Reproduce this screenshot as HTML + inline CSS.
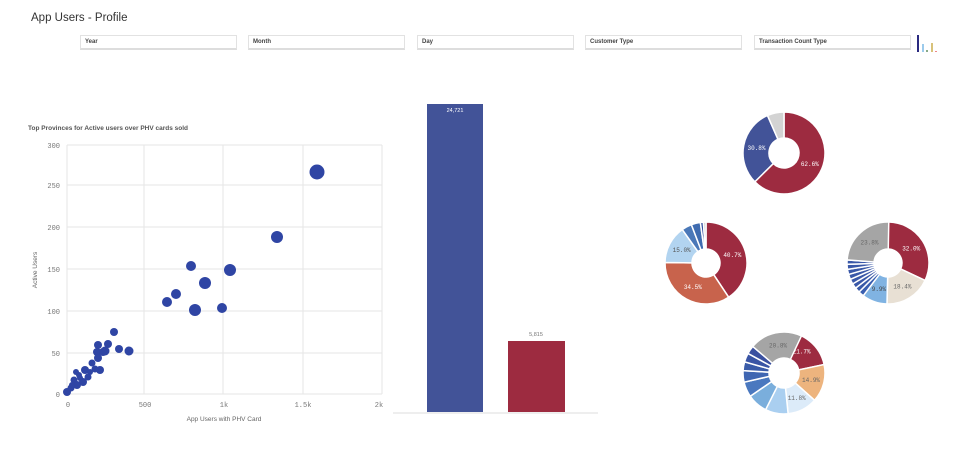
<!DOCTYPE html>
<html><head><meta charset="utf-8"><style>
body{margin:0;width:974px;height:456px;background:#fff;overflow:hidden;font-family:"Liberation Sans",sans-serif;position:relative}
.t{position:absolute;left:31px;top:12px;font-size:11.5px;color:#333}
.f{position:absolute;top:35px;height:15px;width:157px;border:1px solid #e2e2e2;border-bottom:2px solid #ddd;font-size:6px;font-weight:bold;color:#444;box-sizing:border-box;padding:3px 4px}
</style></head><body>
<div class="t">App Users - Profile</div>
<div class="f" style="left:80px">Year</div>
<div class="f" style="left:248px">Month</div>
<div class="f" style="left:417px">Day</div>
<div class="f" style="left:585px">Customer Type</div>
<div class="f" style="left:754px">Transaction Count Type</div>
<svg width="974" height="456" style="position:absolute;left:0;top:0" id="s">
<rect x="917" y="35" width="2" height="17" fill="#2a2a80"/>
<rect x="922" y="44" width="2" height="8" fill="#9ccbec"/>
<rect x="926" y="50" width="2" height="2" fill="#8a8"/>
<rect x="931" y="43" width="2" height="9" fill="#d8c27a"/>
<rect x="935" y="51" width="2" height="1" fill="#e88"/>
<text x="28" y="130" font-size="6.5" font-weight="bold" fill="#555">Top Provinces for Active users over PHV cards sold</text>
<g stroke="#e6e6e6" stroke-width="1">
<line x1="67" y1="145" x2="382" y2="145"/><line x1="67" y1="185" x2="382" y2="185"/><line x1="67" y1="227" x2="382" y2="227"/><line x1="67" y1="269" x2="382" y2="269"/><line x1="67" y1="311" x2="382" y2="311"/><line x1="67" y1="353" x2="382" y2="353"/><line x1="67" y1="394" x2="382" y2="394"/>
<line x1="67" y1="145" x2="67" y2="394"/><line x1="144" y1="145" x2="144" y2="394"/><line x1="223" y1="145" x2="223" y2="394"/><line x1="303" y1="145" x2="303" y2="394"/><line x1="382" y1="145" x2="382" y2="394"/>
</g>
<g font-family="Liberation Mono,monospace" font-size="7" fill="#777" text-anchor="end">
<text x="60" y="148">300</text><text x="60" y="188">250</text><text x="60" y="230">200</text><text x="60" y="272">150</text><text x="60" y="314">100</text><text x="60" y="356">50</text><text x="60" y="397">0</text>
</g>
<g font-family="Liberation Mono,monospace" font-size="7" fill="#777" text-anchor="middle">
<text x="68" y="407">0</text><text x="145" y="407">500</text><text x="224" y="407">1k</text><text x="303" y="407">1.5k</text><text x="379" y="407">2k</text>
</g>
<text x="224" y="421" font-size="6.5" fill="#666" text-anchor="middle">App Users with PHV Card</text>
<text x="37" y="270" font-size="6.5" fill="#666" text-anchor="middle" transform="rotate(-90 37 270)">Active Users</text>
<g fill="#2f45a4" id="pts"></g>
<rect x="427" y="104" width="56" height="308" fill="#425398"/>
<rect x="508" y="341" width="57" height="71" fill="#9d2b40"/>
<line x1="393" y1="413" x2="598" y2="413" stroke="#ddd"/>
<text x="455" y="112" font-size="5.5" fill="#fff" text-anchor="middle">24,721</text>
<text x="536" y="336" font-size="5.5" fill="#777" text-anchor="middle">5,815</text>
<g id="d"></g>
</svg>
<script>
var P=[[317,172,7.5],[277,237,6],[191,266,5],[230,270,6],[205,283,6],[176,294,5],[167,302,5],[195,310,6],[222,308,5],[114,332,4],[108,344,4],[98,345,4],[119,349,4],[129,351,4.5],[105,351,4.5],[97,352,4],[103,352,4],[98,358,4],[92,363,3.5],[100,370,4],[85,370,4],[95,369,3.5],[79,375,3],[88,377,3.5],[74,380,3.5],[83,382,4],[77,385,4],[71,388,3.5],[67,392,4],[80,378,3],[76,372,3],[72,385,3],[90,372,3]];
var g=document.getElementById('pts'),h='';
P.forEach(function(p){h+='<circle cx="'+p[0]+'" cy="'+p[1]+'" r="'+p[2]+'"/>';});g.innerHTML=h;
function donut(cx,cy,R,r,segs){var a=0,o='';segs.forEach(function(s){var a0=a,a1=a+s[0]*3.6;a=a1;
var f=function(ang,rad){var t=(ang-90)*Math.PI/180;return (cx+rad*Math.cos(t)).toFixed(2)+' '+(cy+rad*Math.sin(t)).toFixed(2);};
var L=(a1-a0)>180?1:0;
o+='<path d="M'+f(a0,R)+' A'+R+' '+R+' 0 '+L+' 1 '+f(a1,R)+' L'+f(a1,r)+' A'+r+' '+r+' 0 '+L+' 0 '+f(a0,r)+'Z" fill="'+s[1]+'" stroke="#fff" stroke-width="1.5"/>';
if(s[2]){var m=(a0+a1)/2,t=(m-90)*Math.PI/180,rr=(R+r)/2;o+='<text x="'+(cx+rr*Math.cos(t))+'" y="'+(cy+rr*Math.sin(t)+2)+'" font-size="6" font-family="Liberation Mono,monospace" text-anchor="middle" fill="'+(s[3]||'#fff')+'">'+s[2]+'</text>';}
});return o;}
var D='';
D+=donut(784,153,41,15,[[62.6,'#9d2b40','62.6%'],[30.8,'#425398','30.8%'],[6.6,'#d3d3d3']]);
D+=donut(706,263,41,14,[[40.7,'#9d2b40','40.7%'],[34.5,'#c8634c','34.5%'],[15,'#b2d4f0','15.0%','#555'],[4,'#4a78b8'],[3.6,'#3f6cb0'],[1.2,'#3652a0'],[1,'#ccc']]);
D+=donut(888,263,41,14,[[32,'#9d2b40','32.0%'],[18.4,'#e8e0d4','18.4%','#666'],[9.9,'#80b3e2','9.9%','#444'],[2.2,'#3a5fb0'],[2,'#3a5aa8'],[2,'#3a58a8'],[2,'#3a58a8'],[2,'#3a58a8'],[2,'#3a58a8'],[2,'#3a58a8'],[1.7,'#3a58a8'],[24.1,'#a5a5a5','23.8%','#666']]);
D+=donut(784,373,41,15,[[21.7,'#9d2b40','21.7%'],[14.9,'#edb47e','14.9%','#666'],[11.8,'#dcebf9','11.8%','#666'],[9,'#aacff0'],[8,'#7aaedc'],[6,'#4a78bf'],[4.5,'#3f66b2'],[3.5,'#3a5ba8'],[3.5,'#3a55a5'],[3.3,'#3a50a0'],[20.8,'#a5a5a5','20.8%','#666']]);
document.getElementById('d').innerHTML=D;
</script>
</body></html>
